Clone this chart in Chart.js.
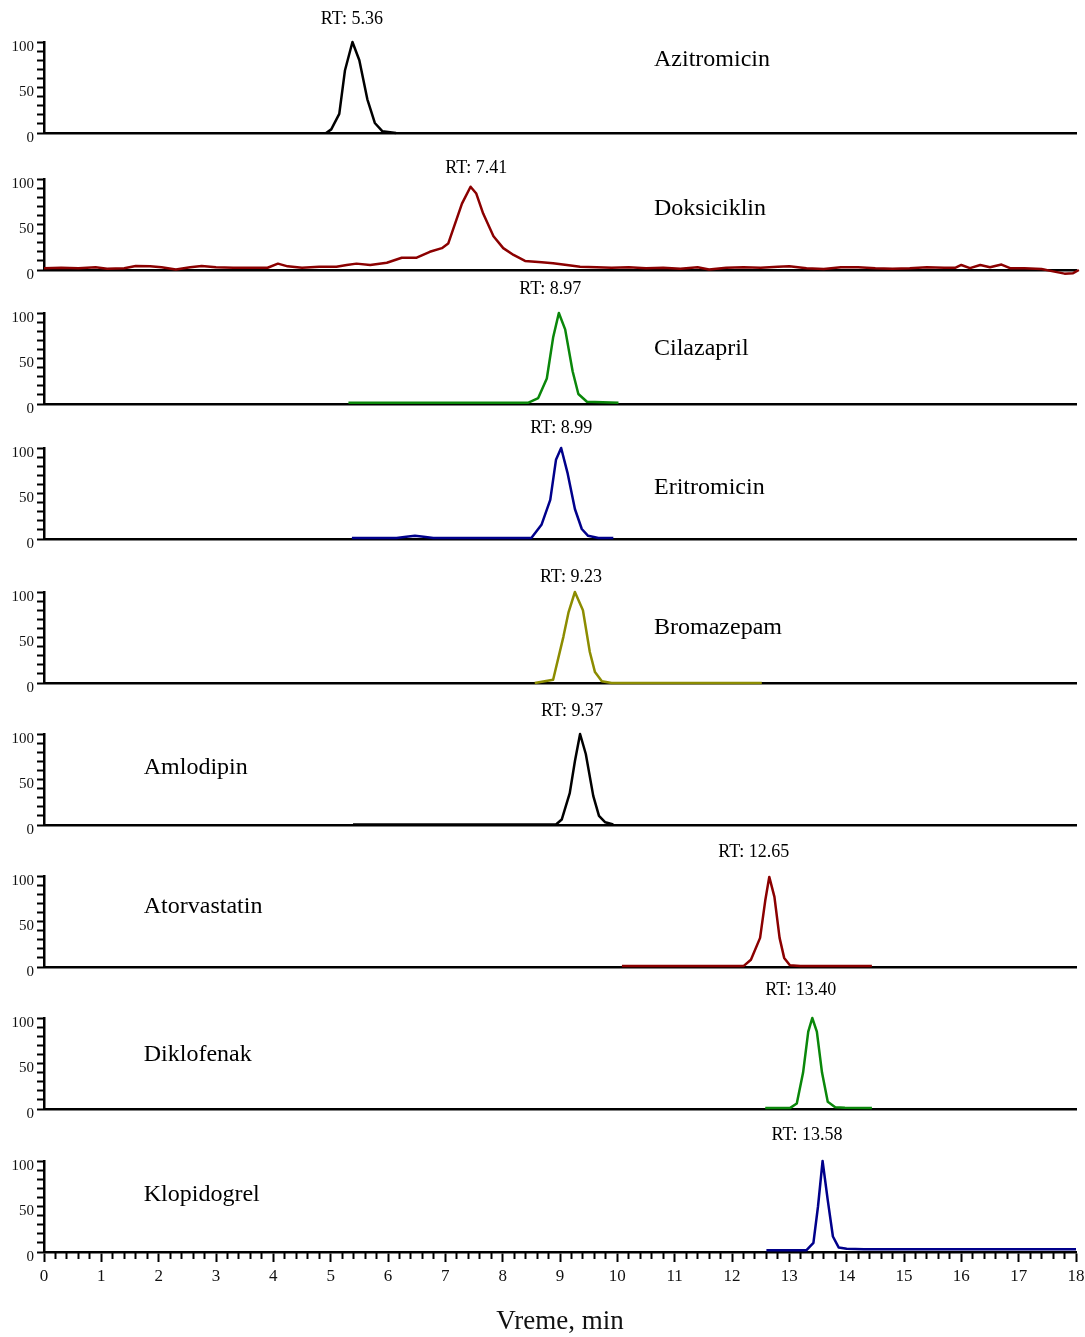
<!DOCTYPE html>
<html>
<head>
<meta charset="utf-8">
<script src="https://cdn.jsdelivr.net/npm/chart.js@4.4.1/dist/chart.umd.min.js"></script>
<style>
  html, body { margin: 0; padding: 0; background: #fff; overflow: hidden; }
  #page { position: relative; width: 1085px; height: 1337px; overflow: hidden; background: #fff; }
  #page canvas { position: absolute; left: 0; }
</style>
</head>
<body>
<div id="page"></div>
<script>
// ---- data ----
const compounds = ['Azitromicin', 'Doksiciklin', 'Cilazapril', 'Eritromicin', 'Bromazepam',
                   'Amlodipin', 'Atorvastatin', 'Diklofenak', 'Klopidogrel'];
const retentionTimes = ['5.36', '7.41', '8.97', '8.99', '9.23', '9.37', '12.65', '13.40', '13.58'];
const xTickLabels = [0, 1, 2, 3, 4, 5, 6, 7, 8, 9, 10, 11, 12, 13, 14, 15, 16, 17, 18];
const yTickLabels = [0, 50, 100];

// time (min) / relative intensity (%) for each trace
const azitromicinT = [4.92, 5.01, 5.15, 5.25, 5.38, 5.50, 5.64, 5.77, 5.90, 6.14];
const azitromicinI = [0, 4, 21, 69, 100, 80, 37, 11, 2, 0];

const doksiciklinT = [0, 0.3, 0.6, 0.9, 1.1, 1.4, 1.6, 1.85, 2.05, 2.3, 2.55, 2.75, 3.0, 3.3, 3.6, 3.9,
                      4.08, 4.25, 4.5, 4.8, 5.1, 5.28, 5.45, 5.69, 5.98, 6.24, 6.5, 6.73, 6.94, 7.05,
                      7.29, 7.44, 7.54, 7.66, 7.84, 8.01, 8.19, 8.39, 8.68, 8.88, 9.12, 9.35, 9.64,
                      9.9, 10.2, 10.5, 10.8, 11.1, 11.4, 11.6, 11.9, 12.2, 12.5, 12.8, 13.0, 13.3,
                      13.6, 13.9, 14.2, 14.5, 14.8, 15.1, 15.4, 15.7, 15.9, 16.0, 16.15, 16.33, 16.5,
                      16.7, 16.85, 17.1, 17.4, 17.6, 17.8, 17.95, 18.05];
const doksiciklinI = [2, 2.5, 2, 3, 1.5, 2, 4.5, 4, 3, 0.5, 3, 4.5, 3, 2.5, 2.5, 2.5,
                      7, 4, 2.5, 3.5, 3.5, 5.5, 7, 5.5, 8, 13.5, 13.5, 20, 24, 29,
                      73, 91.5, 84, 62, 37, 24, 16.5, 10, 8.5, 7.5, 5.5, 3.5, 3,
                      2.5, 3, 2, 2.5, 1.5, 3, 0.5, 2.5, 3, 2.5, 3.5, 4, 2,
                      1, 3, 3, 2, 1.5, 2, 3, 2.5, 2.5, 5.5, 2, 5.5, 3,
                      6, 2, 2, 1, -1.5, -4, -3.5, 0];

const cilazaprilT = [5.31, 8.45, 8.62, 8.77, 8.88, 8.98, 9.09, 9.22, 9.32, 9.47, 10.02];
const cilazaprilI = [1.5, 1.5, 6.5, 28, 73, 100, 82, 36, 11, 2.5, 1.5];

const eritromicinT = [5.37, 6.15, 6.32, 6.47, 6.62, 6.79, 8.5, 8.68, 8.83, 8.93, 9.02, 9.13, 9.26, 9.38, 9.49, 9.67, 9.93];
const eritromicinI = [1, 1, 2.5, 3.5, 2.5, 1, 1, 16, 43, 87, 100, 73, 33, 11, 3.5, 1, 1];

const bromazepamT = [8.56, 8.88, 9.06, 9.15, 9.26, 9.40, 9.52, 9.61, 9.73, 9.90, 12.52];
const bromazepamI = [0, 3.5, 51, 78, 100, 80, 34, 12, 2, 0, 0];

const amlodipinT = [5.39, 8.93, 9.03, 9.17, 9.26, 9.35, 9.45, 9.58, 9.68, 9.79, 9.93];
const amlodipinI = [0.5, 0.5, 6, 35, 70, 100, 78, 32, 10, 3, 0.5];

const atorvastatinT = [10.08, 12.2, 12.33, 12.49, 12.58, 12.65, 12.74, 12.83, 12.91, 13.01, 13.19, 14.44];
const atorvastatinI = [1, 1, 8, 32, 73, 99, 77, 32, 10, 2, 1, 1];

const diklofenakT = [12.58, 13.01, 13.13, 13.24, 13.33, 13.40, 13.48, 13.57, 13.67, 13.80, 13.97, 14.44];
const diklofenakI = [1, 1, 6, 40, 85, 100, 85, 40, 8, 2, 1.5, 1];

const klopidogrelT = [12.6, 13.3, 13.42, 13.5, 13.58, 13.67, 13.76, 13.86, 14.0, 14.3, 18.0];
const klopidogrelI = [2, 2, 10, 50, 100, 57, 17, 5, 3.5, 3, 3];

const traceTimes = [azitromicinT, doksiciklinT, cilazaprilT, eritromicinT, bromazepamT,
                    amlodipinT, atorvastatinT, diklofenakT, klopidogrelT];
const traceValues = [azitromicinI, doksiciklinI, cilazaprilI, eritromicinI, bromazepamI,
                     amlodipinI, atorvastatinI, diklofenakI, klopidogrelI];

// ---- look & layout ----
const lineColors = ['#000000', '#8b0000', '#0a870a', '#00008b', '#8c8c00',
                    '#000000', '#8b0000', '#0a870a', '#00008b'];
const panelTops = [42, 179, 313, 448, 592, 734, 876, 1018, 1161];
const PANEL_H = 91;
const PAD_TOP = 40;
const CANVAS_W = 1095;
const rtLabelAt = [5.37, 7.54, 8.83, 9.02, 9.19, 9.21, 12.38, 13.2, 13.31];   // minutes
const rtLabelGap = [23, 11, 24, 20, 15, 23, 24, 28, 26];                      // px above plot top
const nameAt = [10.64, 10.64, 10.64, 10.64, 10.64, 1.74, 1.74, 1.74, 1.74];   // minutes
const nameGap = [18, 30, 36, 40, 36, 34, 31, 37, 34];                         // px below plot top
const SERIF = "'Liberation Serif', 'Times New Roman', serif";

// RT label + compound name for each panel
const annotate = {
    id: 'annotate',
    afterDatasetsDraw(chart, args, opts) {
        const { ctx, chartArea, scales: { x } } = chart;
        ctx.save();
        ctx.fillStyle = '#000';
        ctx.textBaseline = 'middle';
        ctx.textAlign = 'center';
        ctx.font = '18px ' + SERIF;
        ctx.fillText('RT: ' + opts.rt, x.getPixelForValue(opts.rtAt), chartArea.top - opts.rtGap);
        ctx.textAlign = 'left';
        ctx.font = '24px ' + SERIF;
        ctx.fillText(opts.name, x.getPixelForValue(opts.nameAt), chartArea.top + opts.nameGap);
        ctx.restore();
    }
};

const page = document.getElementById('page');

compounds.forEach((name, i) => {
    const last = i === compounds.length - 1;
    const axisH = last ? 88 : 8;
    const padBottom = last ? 0 : 6;

    const canvas = document.createElement('canvas');
    canvas.width = CANVAS_W;
    canvas.height = PAD_TOP + PANEL_H + axisH + padBottom;
    canvas.style.top = (panelTops[i] - PAD_TOP) + 'px';
    page.appendChild(canvas);

    const points = traceTimes[i].map((t, k) => ({ x: t, y: traceValues[i][k] }));

    const scales = {
        y: {
            min: 0,
            max: 100,
            afterFit: s => { s.width = 44; },
            border: { color: '#000', width: 2.5 },
            grid: { drawOnChartArea: false, tickLength: 7, tickWidth: 2, tickColor: '#000' },
            ticks: {
                stepSize: 10,
                autoSkip: false,
                padding: 3,
                labelOffset: 5,
                color: '#111',
                font: { family: SERIF, size: 15 },
                callback: v => yTickLabels.includes(v) ? String(v) : ''
            }
        },
        x: {
            type: 'linear',
            min: 0,
            max: 18,
            weight: 1,
            afterFit: s => { s.height = axisH; },
            border: { color: '#000', width: 2.5 },
            grid: last
                ? { drawOnChartArea: false, tickLength: 10, tickWidth: 2, tickColor: '#000' }
                : { display: false },
            ticks: last
                ? { display: true, padding: 4, autoSkip: false, maxRotation: 0, color: '#111',
                    font: { family: SERIF, size: 17 }, callback: v => String(v) }
                : { display: false },
            title: last
                ? { display: true, text: 'Vreme, min', color: '#111',
                    font: { family: SERIF, size: 27 }, padding: { top: 4, bottom: 2 } }
                : { display: false }
        }
    };
    if (last) {
        scales.x.afterBuildTicks = s => { s.ticks = xTickLabels.map(v => ({ value: v })); };
        // minor ticks every 0.2 min, same baseline
        scales.xMinor = {
            type: 'linear',
            position: 'bottom',
            min: 0,
            max: 18,
            weight: 0,
            afterBuildTicks: s => {
                const minor = [];
                xTickLabels.slice(0, -1).forEach(m => {
                    for (let k = 1; k < 5; k++) minor.push({ value: m + k / 5 });
                });
                s.ticks = minor;
            },
            afterFit: s => { s.height = 0; },
            border: { display: false },
            grid: { drawOnChartArea: false, tickLength: 7, tickWidth: 2, tickColor: '#000' },
            ticks: { display: false }
        };
    }

    new Chart(canvas, {
        type: 'line',
        data: {
            datasets: [{
                data: points,
                borderColor: lineColors[i],
                borderWidth: 2.5,
                pointRadius: 0,
                tension: 0,
                fill: false,
                clip: false,
                borderJoinStyle: 'round'
            }]
        },
        options: {
            responsive: false,
            animation: false,
            events: [],
            layout: { padding: { top: PAD_TOP, right: CANVAS_W - 1076, bottom: padBottom, left: 0 } },
            plugins: {
                legend: { display: false },
                tooltip: { enabled: false },
                annotate: {
                    name: name,
                    rt: retentionTimes[i],
                    rtAt: rtLabelAt[i],
                    rtGap: rtLabelGap[i],
                    nameAt: nameAt[i],
                    nameGap: nameGap[i]
                }
            },
            scales: scales
        },
        plugins: [annotate]
    });
});
</script>
</body>
</html>
